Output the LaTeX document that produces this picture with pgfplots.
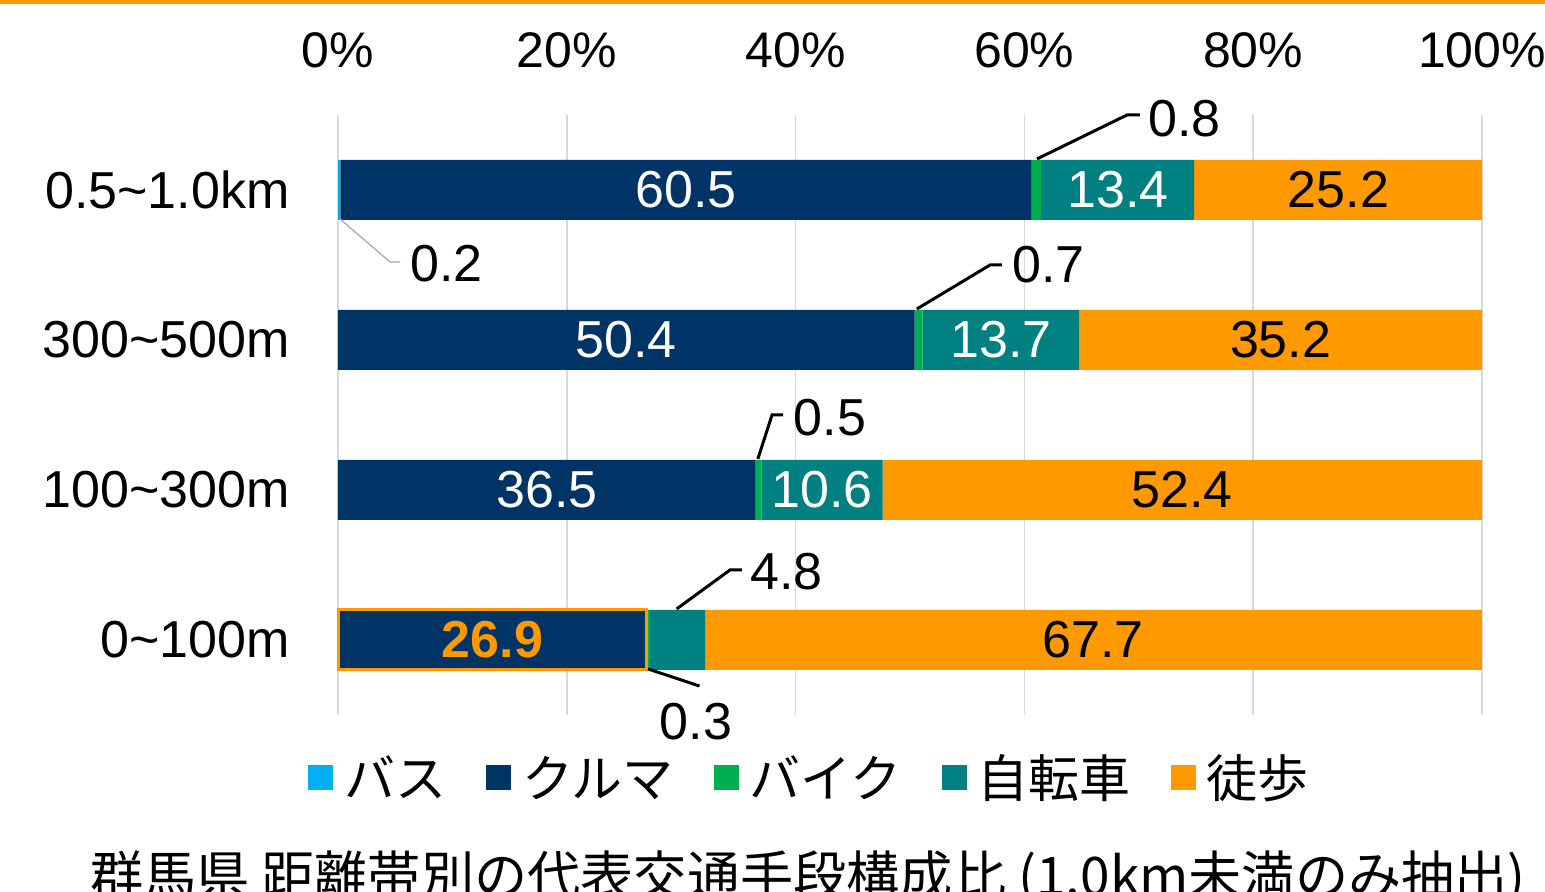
\documentclass[border=0pt]{standalone}
\usepackage{pgfplots}
\usepackage{pgfplotstable}
\usepackage{fontspec}
\pgfplotsset{compat=1.18}
\setmainfont{Liberation Sans}
\newfontfamily\cjk{Noto Sans CJK JP}
\definecolor{cbus}{HTML}{00B0F0}
\definecolor{ccar}{HTML}{003366}
\definecolor{cbike}{HTML}{00B050}
\definecolor{cbic}{HTML}{008080}
\definecolor{cwalk}{HTML}{FF9900}
\definecolor{cgrid}{HTML}{D9D9D9}
\pgfplotstableread{
cat bus car bike bic walk total
0 0 26.9 0.3 4.8 67.7 99.7
1 0 36.5 0.5 10.6 52.4 100.0
2 0 50.4 0.7 13.7 35.2 100.0
3 0.2 60.5 0.8 13.4 25.2 100.1
}\data
% label positions (segment centres, %)
\pgfplotstableread{
cat pos lab
1 18.25 36.5
2 25.2 50.4
3 30.4 60.5
}\carlab
\pgfplotstableread{
cat pos lab
0 13.5 26.9
}\carhl
\pgfplotstableread{
cat pos lab
1 42.3 10.6
2 57.95 13.7
3 68.2 13.4
}\biclab
\pgfplotstableread{
cat pos lab
0 66.0 67.7
1 73.8 52.4
2 82.4 35.2
3 87.45 25.2
}\walklab
\begin{document}
\begin{tikzpicture}
\useasboundingbox (-169pt,-88.5pt) rectangle (603.5pt,357.5pt);
\clip (-169pt,-88.5pt) rectangle (603.5pt,357.5pt);
\fill[cwalk] (-169pt,355.5pt) rectangle (603.5pt,357.5pt);
\begin{axis}[
  at={(0pt,0pt)}, anchor=south west,
  scale only axis, width=572pt, height=300pt,
  xbar stacked, bar width=30pt,
  xmin=0, xmax=100, ymin=-0.5, ymax=3.5,
  clip=false,
  axis line style={draw=none},
  major tick length=0pt,
  xtick={0,20,40,60,80,100},
  xticklabels={0\%,20\%,40\%,60\%,80\%,100\%},
  xticklabel pos=right,
  xticklabel style={anchor=base, inner sep=0pt, yshift=23.5pt, font=\fontsize{25}{25}\selectfont},
  ytick={0,1,2,3},
  yticklabels={0\textasciitilde100m,100\textasciitilde300m,300\textasciitilde500m,0.5\textasciitilde1.0km},
  yticklabel style={anchor=east, inner sep=0pt, xshift=-24pt, font=\fontsize{26}{26}\selectfont},
  xmajorgrids, grid style={cgrid, line width=0.8pt},
  legend image code/.code={\fill[#1] (0pt,-6.25pt) rectangle (12.5pt,6.25pt);},
  legend columns=5,
  legend style={at={(-0.0262,-0.105)}, anchor=west, draw=none, inner sep=0pt,
    font=\cjk\fontsize{25.5}{25.5}\selectfont,
    /tikz/every odd column/.append style={column sep=3.5pt},
    /tikz/every even column/.append style={column sep=18pt}},
]
\addplot[fill=cbus, draw=none] table[x expr=\thisrow{bus}*100/\thisrow{total}, y=cat] {\data};
\addlegendentry{バス}
\addplot[fill=ccar, draw=none] table[x expr=\thisrow{car}*100/\thisrow{total}, y=cat] {\data};
\addlegendentry{クルマ}
\addplot[fill=cbike, draw=none] table[x expr=\thisrow{bike}*100/\thisrow{total}, y=cat] {\data};
\addlegendentry{バイク}
\addplot[fill=cbic, draw=none] table[x expr=\thisrow{bic}*100/\thisrow{total}, y=cat] {\data};
\addlegendentry{自転車}
\addplot[fill=cwalk, draw=none] table[x expr=\thisrow{walk}*100/\thisrow{total}, y=cat] {\data};
\addlegendentry{徒歩}
\end{axis}
\begin{axis}[
  at={(0pt,0pt)}, anchor=south west,
  scale only axis, width=572pt, height=300pt,
  xmin=0, xmax=100, ymin=-0.5, ymax=3.5,
  clip=false, hide axis,
  every node near coord/.append style={font=\fontsize{26}{26}\selectfont, anchor=center, inner sep=0pt},
]
% highlight box
\draw[cwalk, line width=1.5pt] (axis cs:0,-0.2) rectangle (axis cs:27.0,0.2);
\addplot[draw=none, mark=none, nodes near coords, point meta=explicit symbolic,
  every node near coord/.append style={text=white}] table[x=pos, y=cat, meta=lab] {\carlab};
\addplot[draw=none, mark=none, nodes near coords, point meta=explicit symbolic,
  every node near coord/.append style={text=cwalk, font=\fontsize{26}{26}\selectfont\bfseries}] table[x=pos, y=cat, meta=lab] {\carhl};
\addplot[draw=none, mark=none, nodes near coords, point meta=explicit symbolic,
  every node near coord/.append style={text=white}] table[x=pos, y=cat, meta=lab] {\biclab};
\addplot[draw=none, mark=none, nodes near coords, point meta=explicit symbolic,
  every node near coord/.append style={text=black}] table[x=pos, y=cat, meta=lab] {\walklab};
% callouts
\draw[gray!70, line width=0.6pt] (axis cs:0.17,2.807) -- (axis cs:4.55,2.52) -- (axis cs:5.42,2.52);
\node[anchor=west, inner sep=0pt, font=\fontsize{26}{26}\selectfont] at (axis cs:6.29,2.507) {0.2};
\draw[black, line width=1.5pt] (axis cs:61.1,3.207) -- (axis cs:68.97,3.5) -- (axis cs:70.1,3.5);
\node[anchor=west, inner sep=0pt, font=\fontsize{26}{26}\selectfont] at (axis cs:70.8,3.473) {0.8};
\draw[black, line width=1.5pt] (axis cs:50.6,2.207) -- (axis cs:57.0,2.5) -- (axis cs:58.04,2.5);
\node[anchor=west, inner sep=0pt, font=\fontsize{26}{26}\selectfont] at (axis cs:58.9,2.5) {0.7};
\draw[black, line width=1.5pt] (axis cs:36.7,1.207) -- (axis cs:37.94,1.5) -- (axis cs:38.9,1.5);
\node[anchor=west, inner sep=0pt, font=\fontsize{26}{26}\selectfont] at (axis cs:39.8,1.48) {0.5};
\draw[black, line width=1.5pt] (axis cs:29.6,0.207) -- (axis cs:34.27,0.467) -- (axis cs:35.3,0.467);
\node[anchor=west, inner sep=0pt, font=\fontsize{26}{26}\selectfont] at (axis cs:36.0,0.453) {4.8};
\draw[black, line width=1.5pt] (axis cs:27.1,-0.193) -- (axis cs:31.6,-0.307);
\node[anchor=center, inner sep=0pt, font=\fontsize{26}{26}\selectfont] at (axis cs:31.3,-0.547) {0.3};
\end{axis}
\node[anchor=base, inner sep=0pt, font=\cjk\fontsize{26.6}{26.6}\selectfont] at (235pt,-90.5pt) {群馬県 距離帯別の代表交通手段構成比 (1.0km未満のみ抽出)};
\end{tikzpicture}
\end{document}
